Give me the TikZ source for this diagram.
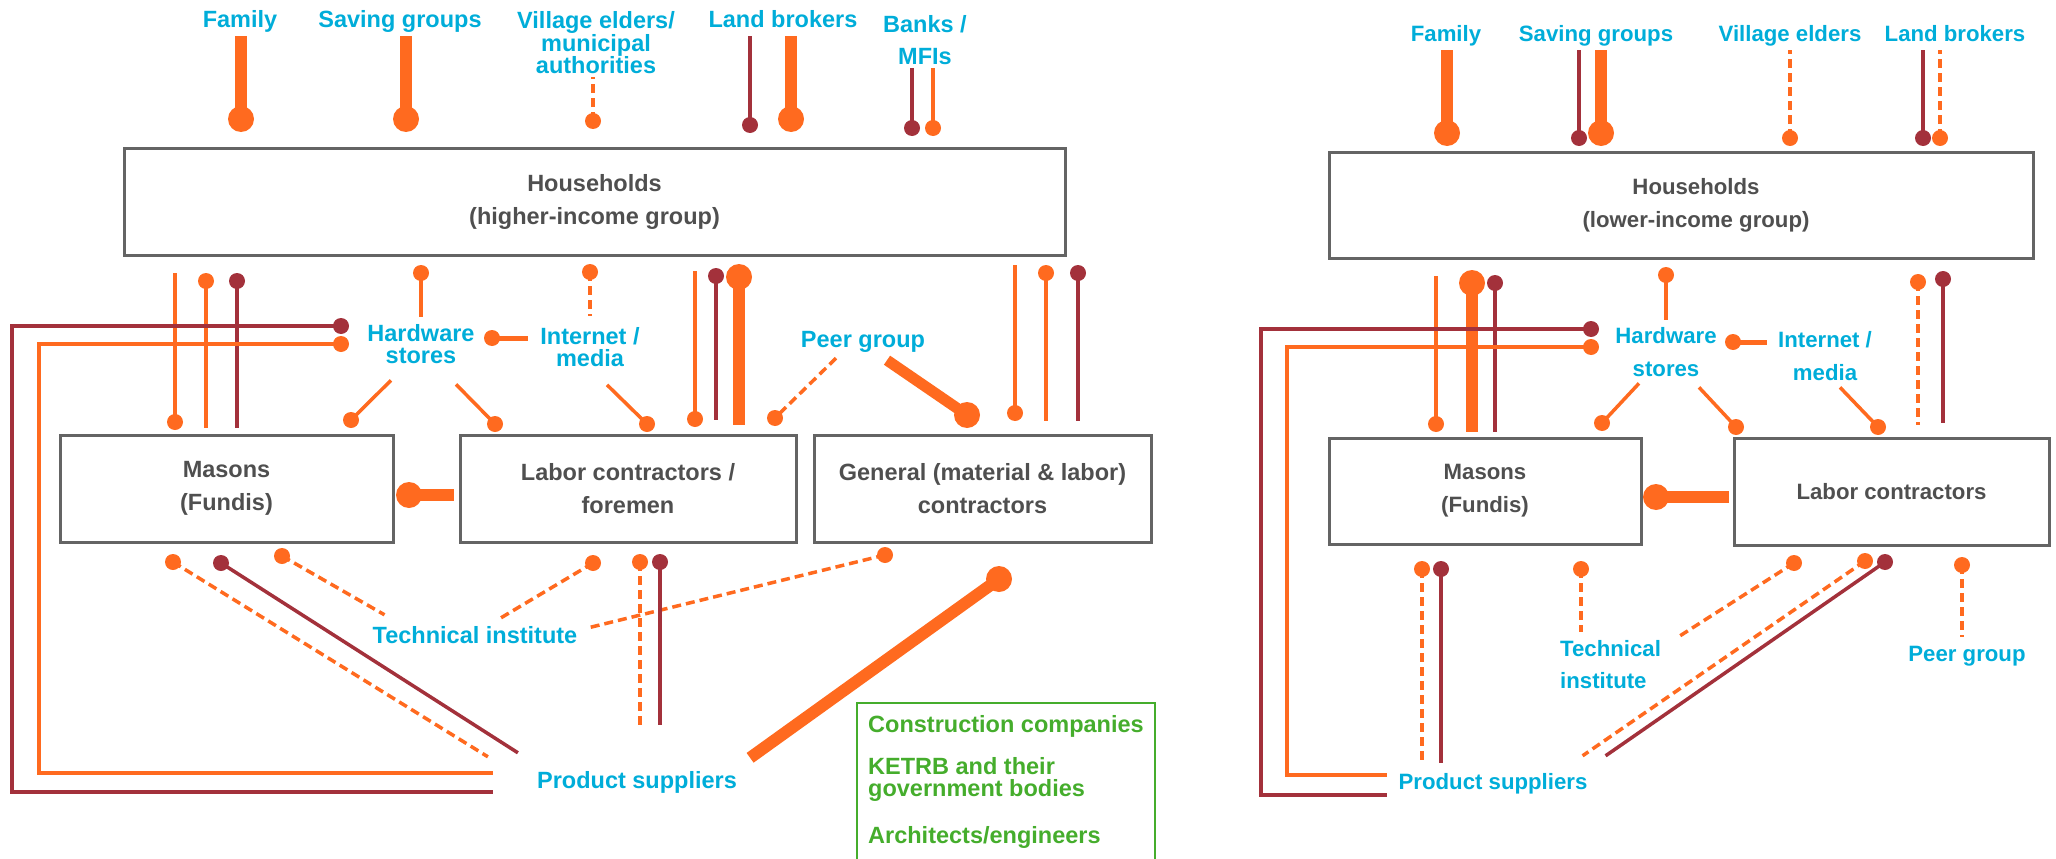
\documentclass[tikz,border=0pt]{standalone}
\usepackage{fontspec}
\setmainfont{Liberation Sans}
\usetikzlibrary{calc,positioning}

\definecolor{orgc}{HTML}{FF6A1F}
\definecolor{redc}{HTML}{A3313B}
\definecolor{cyanc}{HTML}{00ADD9}
\definecolor{boxc}{HTML}{646464}
\definecolor{txtc}{HTML}{4F4F4F}
\definecolor{grnc}{HTML}{45AD2C}

\def\fsz{23.5}
\tikzset{
  lbl/.style={text=cyanc, align=center, inner sep=3pt,
    font=\bfseries\fontsize{\fsz}{#1}\selectfont},
  lbl/.default=22,
  one/.style={text height=17pt, text depth=5pt},
  actor/.style={draw=boxc, line width=3pt, text=txtc, align=center,
    font=\bfseries\fontsize{\fsz}{33}\selectfont},
  sdot/.style={circle, inner sep=0pt, minimum size=16pt, fill=#1},
  sdot/.default=orgc,
  bdot/.style={circle, inner sep=0pt, minimum size=26pt, fill=orgc},
  ln/.style={line width=3.5pt, draw=#1},
  ln/.default=orgc,
  dsh/.style={line width=3.5pt, draw=orgc, dash pattern=on 9pt off 5pt},
  thk/.style={line width=12pt, draw=orgc},
  frm/.style={line width=4.5pt, draw=#1},
}

\begin{document}
\begin{tikzpicture}[x=1pt, y=-1pt]
  \useasboundingbox (0,0) rectangle (2056,859);

  % higher-income group
  \node[actor, minimum width=941pt, minimum height=107pt] (hhH) at (594.5,201.5)
    {Households\\(higher-income group)};
  \node[actor, minimum width=333pt, minimum height=107pt] (msH) at (226.5,488.5)
    {Masons\\(Fundis)};
  \node[actor, minimum width=336pt, minimum height=107pt] (lcH) at (628,488.5)
    {Labor contractors /\\foremen};
  \node[actor, minimum width=337pt, minimum height=107pt] (gcH) at (982.5,488.5)
    {General (material \& labor)\\contractors};

  \node[lbl, one] (famH) at (240,22) {Family};
  \node[lbl, one] (savH) at (400,22) {Saving groups};
  \node[lbl=22.5] (vilH) at (596,43) {Village elders/\\municipal\\authorities};
  \node[lbl, one] (lndH) at (783,22) {Land brokers};
  \node[lbl=32] (bnkH) at (925,40) {Banks /\\MFIs};
  \node[lbl] (hwH) at (421,344.5) {Hardware\\stores};
  \node[lbl] (inH) at (590,347) {Internet /\\media};
  \node[lbl, one] (peerH) at (863,341) {Peer group};
  \node[lbl, one] (techH) at (475,637) {Technical institute};
  \node[lbl, one] (psH) at (637,782) {Product suppliers};

  \node[text=grnc, font=\bfseries\fontsize{23.5}{22}\selectfont, align=left,
    anchor=north west, inner xsep=11pt, inner ysep=12pt] (othH) at (857,703)
    {Construction companies\\[20pt]KETRB and their\\government bodies\\[24pt]Architects/engineers};
  \draw[grnc, line width=2.5pt] (othH.south west) |- (othH.north east) -- (othH.south east);

  % above the households
  \node[bdot] (famHd) at (241,119) {};
  \node[bdot] (savHd) at (406,119) {};
  \node[sdot] (vilHd) at (593,121) {};
  \node[sdot=redc] (lndHr) at (750,125) {};
  \node[bdot] (lndHd) at (791,119) {};
  \node[sdot=redc] (bnkHr) at (912,128) {};
  \node[sdot] (bnkHd) at (933,128) {};
  \draw[thk] (famHd.center) -- (famHd |- famH.south);
  \draw[thk] (savHd.center) -- (savHd |- savH.south);
  \draw[dsh] (vilHd.center) -- (vilHd |- vilH.south);
  \draw[ln=redc] (lndHr.center) -- (lndHr |- lndH.south);
  \draw[thk] (lndHd.center) -- (lndHd |- lndH.south);
  \draw[ln=redc] (bnkHr.center) -- (bnkHr |- bnkH.south);
  \draw[ln] (bnkHd.center) -- (bnkHd |- bnkH.south);

  % households to the builders
  \node[sdot] (msHa) at (175,422) {};
  \node[sdot] (msHb) at (206,281) {};
  \node[sdot=redc] (msHc) at (237,281) {};
  \node[sdot] (hwHt) at (421,273) {};
  \node[sdot] (inHt) at (590,272) {};
  \node[sdot] (lcHa) at (695,419) {};
  \node[sdot=redc] (lcHb) at (716,276) {};
  \node[bdot] (lcHc) at (739,277) {};
  \node[sdot] (gcHa) at (1015,413) {};
  \node[sdot] (gcHb) at (1046,273) {};
  \node[sdot=redc] (gcHc) at (1078,273) {};
  \draw[ln, shorten >=16.5pt] (msHa.center) -- (msHa |- hhH.south);
  \draw[ln, shorten >=5.5pt] (msHb.center) -- (msHb |- msH.north);
  \draw[ln=redc, shorten >=5.5pt] (msHc.center) -- (msHc |- msH.north);
  \draw[ln, shorten >=5pt] (hwHt.center) -- (hwHt |- hwH.north);
  \draw[dsh, shorten >=8pt] (inHt.center) -- (inHt |- inH.north);
  \draw[ln, shorten >=14.5pt] (lcHa.center) -- (lcHa |- hhH.south);
  \draw[ln=redc, shorten >=13.5pt] (lcHb.center) -- (lcHb |- lcH.north);
  \draw[thk, shorten >=8.5pt] (lcHc.center) -- (lcHc |- lcH.north);
  \draw[ln, shorten >=8.5pt] (gcHa.center) -- (gcHa |- hhH.south);
  \draw[ln, shorten >=12.5pt] (gcHb.center) -- (gcHb |- gcH.north);
  \draw[ln=redc, shorten >=12.5pt] (gcHc.center) -- (gcHc |- gcH.north);

  % stores, media, peers
  \node[sdot] (hwHm) at (351,420) {};
  \node[sdot] (hwHl) at (495,424) {};
  \node[sdot] (inHl) at (647,424) {};
  \node[sdot] (peerHl) at (775,418) {};
  \node[bdot] (peerHg) at (967,415) {};
  \node[sdot] (hwHi) at (492,338) {};
  \node[bdot] (msHl) at (409,495) {};
  \draw[ln] ($(hwH.south)+(-30,13)$) -- (hwHm.center);
  \draw[ln] ($(hwH.south)+(35,17)$) -- (hwHl.center);
  \draw[ln] ($(inH.south)+(17,15)$) -- (inHl.center);
  \draw[dsh] ($(peerH.south)+(-27,3)$) -- (peerHl.center);
  \draw[thk, line width=11pt] ($(peerH.south)+(24,5)$) -- (peerHg.center);
  \draw[ln, line width=5pt, shorten >=9pt] (hwHi.center) -- (hwHi -| inH.west);
  \draw[thk, shorten >=5pt] (msHl.center) -- (msHl -| lcH.west);

  % suppliers and institute
  \node[sdot=redc] (hwHr) at (341,326) {};
  \node[sdot] (hwHo) at (341,344) {};
  \draw[frm=redc] (hwHr.center) -- ++(-329,0) |- ($(psH.west)+(-41,10)$);
  \draw[frm=orgc] (hwHo.center) -- ++(-302,0) |- ($(psH.west)+(-41,-9)$);
  \node[sdot] (msHp) at (173,562) {};
  \node[sdot=redc] (msHq) at (221,563) {};
  \node[sdot] (msHt) at (282,556) {};
  \node[sdot] (lcHt) at (593,563) {};
  \node[sdot] (lcHp) at (640,562) {};
  \node[sdot=redc] (lcHq) at (660,562) {};
  \node[sdot] (gcHt) at (885,555) {};
  \node[bdot] (gcHp) at (999,579) {};
  \draw[dsh] (msHp.center) -- ($(psH.north west)+(-46,-11)$);
  \draw[ln=redc] (msHq.center) -- ($(psH.north west)+(-16,-15)$);
  \draw[dsh] (msHt.center) -- ($(techH.north west)+(15,-8)$);
  \draw[dsh] (lcHt.center) -- ($(techH.north)+(26,-5)$);
  \draw[dsh] (gcHt.center) -- ($(techH.east)+(7,-9)$);
  \draw[dsh, shorten >=43pt] (lcHp.center) -- (lcHp |- psH.north);
  \draw[ln=redc, shorten >=43pt] (lcHq.center) -- (lcHq |- psH.north);
  \draw[thk] (gcHp.center) -- ($(psH.north east)+(10,-10)$);

  % lower-income group
  \begin{scope}
  \def\fsz{22.2}
  \node[actor, minimum width=704pt, minimum height=106pt] (hhL) at (1681,205)
    {\hspace*{30pt}Households\\\hspace*{30pt}(lower-income group)};
  \node[actor, minimum width=312pt, minimum height=106pt] (msL) at (1485,491)
    {Masons\\(Fundis)};
  \node[actor, minimum width=315pt, minimum height=107pt] (lcL) at (1891.5,491.5)
    {Labor contractors};

  \node[lbl, one] (famL) at (1446,36) {Family};
  \node[lbl, one] (savL) at (1596,36) {Saving groups};
  \node[lbl, one] (vilL) at (1790,36) {Village elders};
  \node[lbl, one] (lndL) at (1955,36) {Land brokers};
  \node[lbl=33] (hwL) at (1666,352) {Hardware\\stores};
  \node[lbl=33] (inL) at (1825,356) {Internet /\\media};
  \node[lbl=32, align=left, anchor=north west] (techL) at (1557,637) {Technical\\institute};
  \node[lbl, one] (peerL) at (1967,655) {Peer group};
  \node[lbl, one] (psL) at (1493,783) {Product suppliers};

  \node[bdot] (famLd) at (1447,133) {};
  \node[sdot=redc] (savLr) at (1579,138) {};
  \node[bdot] (savLd) at (1601,133) {};
  \node[sdot] (vilLd) at (1790,138) {};
  \node[sdot=redc] (lndLr) at (1923,138) {};
  \node[sdot] (lndLd) at (1940,138) {};
  \draw[thk] (famLd.center) -- (famLd |- famL.south);
  \draw[ln=redc] (savLr.center) -- (savLr |- savL.south);
  \draw[thk] (savLd.center) -- (savLd |- savL.south);
  \draw[dsh] (vilLd.center) -- (vilLd |- vilL.south);
  \draw[ln=redc] (lndLr.center) -- (lndLr |- lndL.south);
  \draw[dsh] (lndLd.center) -- (lndLd |- lndL.south);

  \node[sdot] (msLa) at (1436,424) {};
  \node[bdot] (msLb) at (1472,283) {};
  \node[sdot=redc] (msLc) at (1495,283) {};
  \node[sdot] (hwLt) at (1666,275) {};
  \node[sdot] (lcLa) at (1918,282) {};
  \node[sdot=redc] (lcLb) at (1943,279) {};
  \draw[ln, shorten >=16.5pt] (msLa.center) -- (msLa |- hhL.south);
  \draw[thk, shorten >=4.5pt] (msLb.center) -- (msLb |- msL.north);
  \draw[ln=redc, shorten >=4.5pt] (msLc.center) -- (msLc |- msL.north);
  \draw[ln, shorten >=4.5pt] (hwLt.center) -- (hwLt |- hwL.north);
  \draw[dsh, shorten >=11.5pt] (lcLa.center) -- (lcLa |- lcL.north);
  \draw[ln=redc, shorten >=13.5pt] (lcLb.center) -- (lcLb |- lcL.north);

  \node[sdot] (hwLm) at (1602,423) {};
  \node[sdot] (hwLl) at (1736,427) {};
  \node[sdot] (inLl) at (1878,427) {};
  \node[sdot] (hwLi) at (1733,342) {};
  \node[bdot] (msLl) at (1656,497) {};
  \draw[ln] ($(hwL.south)+(-27,3.5)$) -- (hwLm.center);
  \draw[ln] ($(hwL.south)+(33,7.5)$) -- (hwLl.center);
  \draw[ln] ($(inL.south)+(15,3.5)$) -- (inLl.center);
  \draw[ln, line width=5pt, shorten >=8pt] (hwLi.center) -- (hwLi -| inL.west);
  \draw[thk, shorten >=3.5pt] (msLl.center) -- (msLl -| lcL.west);

  \node[sdot=redc] (hwLr) at (1591,329) {};
  \node[sdot] (hwLo) at (1591,347) {};
  \draw[frm=redc] (hwLr.center) -- ++(-330,0) |- ($(psL.west)+(-8,12)$);
  \draw[frm=orgc] (hwLo.center) -- ++(-304,0) |- ($(psL.west)+(-8,-8)$);
  \node[sdot] (msLp) at (1422,569) {};
  \node[sdot=redc] (msLq) at (1441,569) {};
  \node[sdot] (msLt) at (1581,569) {};
  \node[sdot] (lcLt) at (1794,563) {};
  \node[sdot] (lcLp) at (1865,561) {};
  \node[sdot=redc] (lcLq) at (1885,562) {};
  \node[sdot] (lcLr) at (1962,565) {};
  \draw[dsh, shorten >=9pt] (msLp.center) -- (msLp |- psL.north);
  \draw[ln=redc, shorten >=6pt] (msLq.center) -- (msLq |- psL.north);
  \draw[dsh, shorten >=5pt] (msLt.center) -- (msLt |- techL.north);
  \draw[dsh] (lcLt.center) -- ($(techL.north east)+(14,0)$);
  \draw[dsh] (lcLp.center) -- ($(psL.north east)+(-8,-13)$);
  \draw[ln=redc] (lcLq.center) -- ($(psL.north east)+(15,-13)$);
  \draw[dsh, shorten >=4pt] (lcLr.center) -- (lcLr |- peerL.north);
  \end{scope}
\end{tikzpicture}
\end{document}
